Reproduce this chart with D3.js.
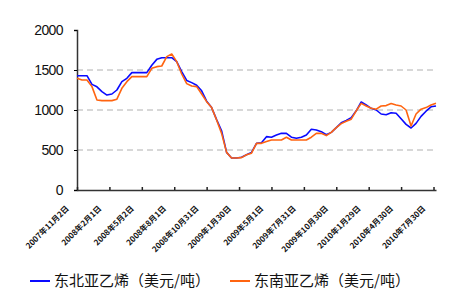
<!DOCTYPE html>
<html>
<head>
<meta charset="utf-8">
<script src="https://cdn.jsdelivr.net/npm/d3@7"></script>
<style>
  body { margin: 0; background: #fff; }
  svg { display: block; font-family: 'Liberation Sans', Arial, sans-serif; }
</style>
</head>
<body>
<svg id="chart" width="450" height="300"></svg>
<script>
// biweekly prices, first point 2007-11-02
let startDate = new Date(2007, 10, 2)
let neAsia = [1429, 1429, 1429, 1320, 1290, 1230, 1187, 1200, 1250, 1354,
  1396, 1467, 1467, 1467, 1467, 1560, 1633, 1654, 1654, 1654,
  1604, 1480, 1370, 1342, 1310, 1240, 1110, 1030, 880, 740,
  470, 400, 400, 410, 440, 470, 583, 590, 667, 660,
  687, 708, 708, 660, 646, 660, 687, 760, 750, 729,
  690, 720, 780, 840, 870, 905, 990, 1100, 1062, 1021,
  1000, 950, 940, 965, 960, 890, 820, 775, 833, 920,
  985, 1040, 1050]
let seAsia = [1396, 1375, 1375, 1292, 1125, 1117, 1117, 1117, 1135, 1271,
  1354, 1417, 1417, 1417, 1417, 1521, 1542, 1550, 1667, 1700,
  1604, 1450, 1330, 1300, 1292, 1200, 1104, 1030, 875, 708,
  470, 400, 400, 405, 440, 460, 583, 583, 605, 625,
  625, 625, 660, 625, 625, 625, 625, 660, 708, 708,
  680, 720, 780, 830, 860, 885, 990, 1083, 1050, 1021,
  1010, 1050, 1055, 1080, 1062, 1050, 1000, 800, 950, 1010,
  1030, 1062, 1083]
let tickDates = ['2007-11-02', '2008-02-01', '2008-05-02', '2008-08-01', '2008-10-31', '2009-01-30',
  '2009-05-01', '2009-07-31', '2009-10-30', '2010-01-29', '2010-04-30', '2010-07-30']
let tickLabels = ['2007年11月2日', '2008年2月1日', '2008年5月2日', '2008年8月1日', '2008年10月31日', '2009年1月30日',
  '2009年5月1日', '2009年7月31日', '2009年10月30日', '2010年1月29日', '2010年4月30日', '2010年7月30日']
let yTicks = [0, 500, 1000, 1500, 2000]
let seriesNames = ['东北亚乙烯（美元/吨）', '东南亚乙烯（美元/吨）']
let colors = ['#0a0aff', '#ff6410']

let svg = d3.select('#chart')
let dates = neAsia.map((v, i) => d3.timeDay.offset(startDate, i * 14))
let parse = d3.timeParse('%Y-%m-%d')

let x = d3.scaleTime()
  .domain([dates[0], dates[dates.length - 1]])
  .range([77, 436])
let y = d3.scaleLinear()
  .domain([0, 2000])
  .range([190, 30])

// grid
svg.append('g')
  .selectAll('line')
  .data([500, 1000, 1500])
  .join('line')
  .attr('x1', 77).attr('x2', 436)
  .attr('y1', d => y(d)).attr('y2', d => y(d))
  .attr('stroke', '#b0b0b0')
  .attr('stroke-dasharray', '6,4')

// y axis
let yAxis = svg.append('g')
  .attr('transform', 'translate(77,0)')
  .call(d3.axisLeft(y).tickValues(yTicks).tickFormat(d3.format('d')).tickSize(3).tickPadding(11))
yAxis.select('.domain').attr('stroke', '#333').attr('stroke-width', 1.5)
yAxis.selectAll('text').attr('font-size', 14).attr('fill', '#111').attr('letter-spacing', -0.6)

// x axis
let xAxis = svg.append('g')
  .attr('transform', 'translate(0,190)')
  .call(d3.axisBottom(x).tickValues(tickDates.map(parse)).tickSizeInner(-3).tickSizeOuter(0).tickFormat((d, i) => tickLabels[i]))
xAxis.select('.domain').attr('stroke', '#333').attr('stroke-width', 1.5)
xAxis.selectAll('.tick line').attr('stroke', '#222').attr('stroke-width', 1.5)
xAxis.selectAll('text')
  .attr('font-size', 8)
  .attr('font-weight', 'bold')
  .attr('font-family', 'Noto Sans CJK SC')
  .attr('fill', '#111')
  .attr('text-anchor', 'end')
  .attr('dy', 0)
  .attr('y', 0)
  .attr('transform', 'translate(-8,19) rotate(-45)')

// lines, orange drawn last so it sits on top
let line = d3.line()
  .x((d, i) => x(dates[i]))
  .y(d => y(d))
let series = [neAsia, seAsia]
svg.append('g')
  .selectAll('path')
  .data(series)
  .join('path')
  .attr('d', line)
  .attr('fill', 'none')
  .attr('stroke', (d, i) => colors[i])
  .attr('stroke-width', 1.6)
  .attr('stroke-linejoin', 'round')

// legend
let legendX = [30, 230]
let legend = svg.append('g')
  .selectAll('g')
  .data(seriesNames)
  .join('g')
  .attr('transform', (d, i) => 'translate(' + [legendX[i], 281].join(',') + ')')
legend.append('line')
  .attr('x1', 0).attr('x2', 20)
  .attr('stroke', (d, i) => colors[i])
  .attr('stroke-width', 2)
legend.append('text')
  .attr('x', 24)
  .attr('dy', '0.35em')
  .attr('font-size', 15)
  .attr('font-family', 'Noto Sans CJK SC')
  .attr('fill', '#111')
  .text(d => d)
</script>
</body>
</html>
